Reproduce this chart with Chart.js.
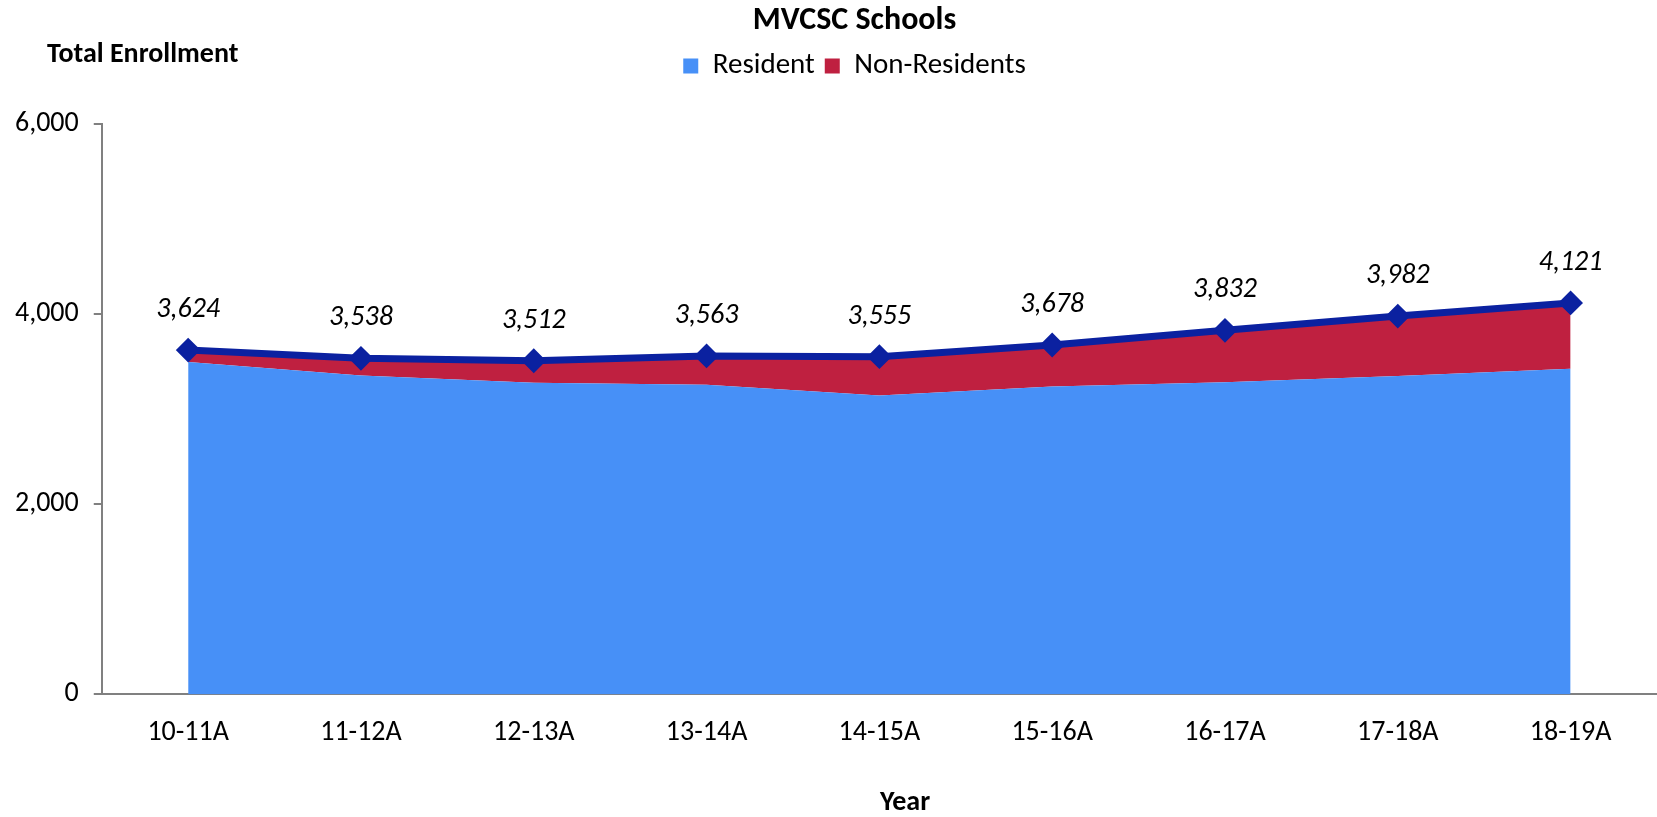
<!DOCTYPE html>
<html>
<head>
<meta charset="utf-8">
<title>MVCSC Schools</title>
<script src="https://cdn.jsdelivr.net/npm/chart.js@4.4.1/dist/chart.umd.min.js"></script>
<style>
    html, body { margin: 0; padding: 0; background: #ffffff; overflow: hidden; }
    #wrap { width: 1657px; height: 817px; }
    canvas { display: block; }
</style>
</head>
<body>
<div id="wrap"><canvas id="chart" width="1657" height="817"></canvas></div>
<script>
const years = ['10-11A', '11-12A', '12-13A', '13-14A', '14-15A', '15-16A', '16-17A', '17-18A', '18-19A'];
const residents = [3500, 3358, 3281, 3260, 3147, 3242, 3287, 3351, 3429];
const nonResidents = [124, 180, 231, 303, 408, 436, 545, 631, 692];
const totals = [3624, 3538, 3512, 3563, 3555, 3678, 3832, 3982, 4121];
const yTicks = [0, 2000, 4000, 6000];

const FONT = 'Carlito, Lato, "Noto Sans", sans-serif';
const AXIS_GREY = '#808080';

function formatNumber(value) {
    return value.toLocaleString('en-US');
}

// labels over the total line + the two loose axis captions
const textPlugin = {
    id: 'textPlugin',
    afterLayout(chart) {
        // title and legend sit a little right of the canvas centre in the original
        const shift = 26;
        [chart.titleBlock, chart.legend].forEach(function (box) {
            if (!box) return;
            box.left += shift;
            box.right += shift;
        });
    },
    afterDatasetsDraw(chart) {
        const ctx = chart.ctx;
        const meta = chart.getDatasetMeta(2);
        ctx.save();
        ctx.fillStyle = '#000000';
        ctx.textAlign = 'center';
        ctx.textBaseline = 'middle';
        ctx.font = 'italic 28px ' + FONT;
        meta.data.forEach(function (pt, i) {
            ctx.fillText(formatNumber(totals[i]), pt.x, pt.y - 40);
        });
        ctx.restore();
    },
    afterDraw(chart) {
        const ctx = chart.ctx;
        ctx.save();
        ctx.fillStyle = '#000000';
        ctx.textBaseline = 'middle';
        ctx.font = 'bold 28px ' + FONT;
        ctx.textAlign = 'left';
        ctx.fillText('Total Enrollment', 47, 55);
        ctx.textAlign = 'center';
        ctx.fillText('Year', 905, 803);
        ctx.restore();
    }
};

const ctx = document.getElementById('chart');

ctx.chart = new Chart(ctx, {
    type: 'line',
    data: {
        labels: years,
        datasets: [
            {
                label: 'Resident',
                data: residents,
                stack: 'enroll',
                order: 1,
                backgroundColor: '#4790F7',
                borderColor: '#4790F7',
                borderWidth: 0,
                pointRadius: 0,
                fill: 'origin',
                tension: 0
            },
            {
                label: 'Non-Residents',
                data: nonResidents,
                stack: 'enroll',
                order: 2,
                backgroundColor: '#BF2040',
                borderColor: '#BF2040',
                borderWidth: 0,
                pointRadius: 0,
                fill: '-1',
                tension: 0
            },
            {
                label: 'Total',
                data: totals,
                stack: 'total',
                order: 0,
                borderColor: '#0B21A0',
                backgroundColor: '#0B21A0',
                borderWidth: 7,
                pointStyle: 'rectRot',
                pointRadius: 11,
                pointBorderWidth: 2,
                fill: false,
                tension: 0
            }
        ]
    },
    options: {
        responsive: false,
        animation: false,
        events: [],
        layout: {
            autoPadding: false,
            padding: { left: 0, right: 0, top: 0, bottom: 45 }
        },
        plugins: {
            tooltip: { enabled: false },
            title: {
                display: true,
                text: 'MVCSC Schools',
                color: '#000000',
                font: { family: FONT, size: 32, weight: 'bold' },
                padding: { top: 2, bottom: 1 }
            },
            // empty subtitle used as a spacer between legend and plot
            subtitle: {
                display: true,
                text: '',
                weight: 500,
                font: { family: FONT, size: 20 },
                padding: { top: 4, bottom: 6 }
            },
            legend: {
                position: 'top',
                labels: {
                    color: '#000000',
                    font: { family: FONT, size: 29 },
                    boxWidth: 15,
                    boxHeight: 15,
                    padding: 10,
                    filter: function (item) { return item.datasetIndex !== 2; }
                }
            }
        },
        scales: {
            x: {
                offset: true,
                afterFit: function (scale) {
                    scale.paddingLeft = 0;
                    scale.paddingRight = 0;
                },
                grid: { display: false, drawTicks: false },
                border: { display: true, color: AXIS_GREY, width: 2 },
                ticks: {
                    color: '#000000',
                    font: { family: FONT, size: 28 },
                    padding: 22,
                    maxRotation: 0
                }
            },
            y: {
                stacked: true,
                min: 0,
                max: 6000,
                afterBuildTicks: function (scale) {
                    scale.ticks = yTicks.map(function (v) { return { value: v }; });
                },
                grid: {
                    display: true,
                    drawOnChartArea: false,
                    drawTicks: true,
                    tickLength: 8,
                    color: AXIS_GREY,
                    lineWidth: 2
                },
                border: { display: true, color: AXIS_GREY, width: 2 },
                ticks: {
                    color: '#000000',
                    font: { family: FONT, size: 28 },
                    padding: 15,
                    callback: function (value) { return formatNumber(value); }
                }
            }
        }
    },
    plugins: [textPlugin]
});
</script>
</body>
</html>
